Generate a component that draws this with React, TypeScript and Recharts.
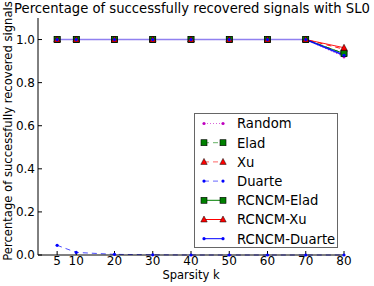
import React from 'react';
import { LineChart, Line, XAxis, YAxis } from 'recharts';

const kValues = [5, 10, 20, 30, 40, 50, 60, 70, 80];
const randomVals = [1, 1, 1, 1, 1, 1, 1, 1, 0.92];
const eladVals = [1, 1, 1, 1, 1, 1, 1, 1, 0.935];
const xuVals = [1, 1, 1, 1, 1, 1, 1, 1, 0.955];
const duarteVals = [0.045, 0.012, 0.003, 0.001, 0, 0, 0, 0, 0];
const rcEladVals = [1, 1, 1, 1, 1, 1, 1, 1, 0.935];
const rcXuVals = [1, 1, 1, 1, 1, 1, 1, 1, 0.962];
const rcDuarteVals = [1, 1, 1, 1, 1, 1, 1, 1, 0.927];

const xTicks = [5, 10, 20, 30, 40, 50, 60, 70, 80];
const yTicks = [0, 0.2, 0.4, 0.6, 0.8, 1.0];

const data = kValues.map((k, i) => ({
  k,
  Random: randomVals[i],
  Elad: eladVals[i],
  Xu: xuVals[i],
  Duarte: duarteVals[i],
  'RCNCM-Elad': rcEladVals[i],
  'RCNCM-Xu': rcXuVals[i],
  'RCNCM-Duarte': rcDuarteVals[i],
}));

type Series = {
  key: string;
  color: string;
  dash?: string;
  marker: 'dot' | 'square' | 'triangle';
  flatColor: string;
  flatOpacity: number;
  gradient: boolean;
};

const series: Series[] = [
  { key: 'Random', color: '#bf00bf', dash: '1 2', marker: 'dot', flatColor: '#bf00bf', flatOpacity: 0.15, gradient: true },
  { key: 'Elad', color: '#008000', dash: '5 4', marker: 'square', flatColor: '#008000', flatOpacity: 0.1, gradient: true },
  { key: 'Xu', color: '#ff0000', dash: '5 4', marker: 'triangle', flatColor: '#ff0000', flatOpacity: 0.1, gradient: true },
  { key: 'Duarte', color: '#0000ff', dash: '5 4', marker: 'dot', flatColor: '#0000ff', flatOpacity: 0.7, gradient: false },
  { key: 'RCNCM-Elad', color: '#008000', marker: 'square', flatColor: '#008000', flatOpacity: 0.1, gradient: true },
  { key: 'RCNCM-Xu', color: '#ff0000', marker: 'triangle', flatColor: '#ff0000', flatOpacity: 0.1, gradient: true },
  { key: 'RCNCM-Duarte', color: '#0000ff', marker: 'dot', flatColor: '#9080f0', flatOpacity: 1, gradient: true },
];

const FONT = '"DejaVu Sans", sans-serif';
const PLOT_LEFT = 38;
const PLOT_RIGHT = 344;
const SPLIT = 70 / 80;

function Marker({ cx, cy, s }: { cx: number; cy: number; s: Series }) {
  if (s.marker === 'square') {
    return <rect x={cx - 3} y={cy - 3} width={6} height={6} fill={s.color} stroke="#000" strokeWidth={0.6} />;
  }
  if (s.marker === 'triangle') {
    return (
      <polygon
        points={`${cx},${cy - 3.5} ${cx - 3.2},${cy + 2.5} ${cx + 3.2},${cy + 2.5}`}
        fill={s.color}
        stroke="#000"
        strokeWidth={0.5}
      />
    );
  }
  return <circle cx={cx} cy={cy} r={1.6} fill={s.color} />;
}

function makeDot(s: Series) {
  return (props: any) => {
    const { cx, cy, index } = props;
    if (cx == null || cy == null) return <g key={`d-${s.key}-${index}`} />;
    return (
      <g key={`d-${s.key}-${index}`}>
        <Marker cx={cx} cy={cy} s={s} />
      </g>
    );
  };
}

function gradId(s: Series) {
  return `grad-${s.key}`;
}

function LegendBox({ x, y }: { x: number; y: number }) {
  const rowH = 19.2;
  return (
    <g transform={`translate(${x},${y})`}>
      <rect x={0.5} y={0.5} width={143} height={134} fill="#fff" stroke="#666" strokeWidth={1} />
      {series.map((s, i) => {
        const yy = 10.5 + i * rowH;
        return (
          <g key={s.key}>
            <line
              x1={10}
              x2={29}
              y1={yy}
              y2={yy}
              stroke={s.color}
              strokeWidth={1}
              strokeDasharray={s.dash}
              strokeOpacity={s.dash ? 0.6 : 1}
            />
            <Marker cx={10} cy={yy} s={s} />
            <Marker cx={29} cy={yy} s={s} />
            <text x={43} y={yy + 4.8} fontSize={13.2} fontFamily={FONT} fill="#000">
              {s.key}
            </text>
          </g>
        );
      })}
    </g>
  );
}

export default function App() {
  return (
    <div style={{ position: 'absolute', left: 0, top: 0, width: 374, height: 286, background: '#fff' }}>
      <LineChart
        width={374}
        height={286}
        data={data}
        margin={{ top: 18, right: 30, left: 0, bottom: 0 }}
      >
        <defs>
          {series
            .filter((s) => s.gradient)
            .map((s) => (
              <linearGradient
                key={s.key}
                id={gradId(s)}
                gradientUnits="userSpaceOnUse"
                x1={PLOT_LEFT}
                x2={PLOT_RIGHT}
                y1={0}
                y2={0}
              >
                <stop offset={0} stopColor={s.flatColor} stopOpacity={s.flatOpacity} />
                <stop offset={SPLIT} stopColor={s.flatColor} stopOpacity={s.flatOpacity} />
                <stop offset={SPLIT + 0.005} stopColor={s.color} stopOpacity={0.9} />
                <stop offset={1} stopColor={s.color} stopOpacity={0.9} />
              </linearGradient>
            ))}
        </defs>
        <text x={192} y={13} textAnchor="middle" fontSize={13.2} fontFamily={FONT} fill="#000">
          Percentage of successfully recovered signals with SL0
        </text>
        <text
          x={12}
          y={131}
          textAnchor="middle"
          fontSize={11.6}
          fontFamily={FONT}
          fill="#000"
          transform="rotate(-90 12 131)"
        >
          Percentage of successfully recovered signals
        </text>
        <text x={191} y={279} textAnchor="middle" fontSize={11.5} fontFamily={FONT} fill="#000">
          Sparsity k
        </text>
        <XAxis
          dataKey="k"
          type="number"
          domain={[0, 80]}
          ticks={xTicks}
          interval={0}
          height={31}
          tickSize={-4}
          tickMargin={5}
          axisLine={{ stroke: '#000' }}
          tickLine={{ stroke: '#000' }}
          tick={{ fill: '#000', fontSize: 12, fontFamily: FONT }}
        />
        <XAxis
          xAxisId="top"
          dataKey="k"
          type="number"
          orientation="top"
          domain={[0, 80]}
          ticks={xTicks}
          interval={0}
          height={0}
          tickSize={-4}
          tickFormatter={() => ''}
          axisLine={{ stroke: '#000' }}
          tickLine={{ stroke: '#000' }}
        />
        <YAxis
          type="number"
          domain={[0, 1.1]}
          ticks={yTicks}
          interval={0}
          width={38}
          tickSize={-4}
          tickMargin={7}
          tickFormatter={(v: number) => v.toFixed(1)}
          axisLine={{ stroke: '#000' }}
          tickLine={{ stroke: '#000' }}
          tick={{ fill: '#000', fontSize: 12, fontFamily: FONT }}
        />
        <YAxis
          yAxisId="right"
          type="number"
          orientation="right"
          domain={[0, 1.1]}
          ticks={yTicks}
          interval={0}
          width={0}
          tickSize={-4}
          tickFormatter={() => ''}
          axisLine={{ stroke: '#000' }}
          tickLine={{ stroke: '#000' }}
        />
        {series.map((s) => (
          <Line
            key={s.key}
            dataKey={s.key}
            type="linear"
            stroke={s.gradient ? `url(#${gradId(s)})` : s.color}
            strokeOpacity={s.gradient ? 1 : s.flatOpacity}
            strokeWidth={s.key === 'RCNCM-Duarte' ? 1.6 : 1}
            strokeDasharray={s.dash}
            dot={makeDot(s)}
            activeDot={false}
            isAnimationActive={false}
          />
        ))}
        <LegendBox x={194} y={113} />
      </LineChart>
    </div>
  );
}
